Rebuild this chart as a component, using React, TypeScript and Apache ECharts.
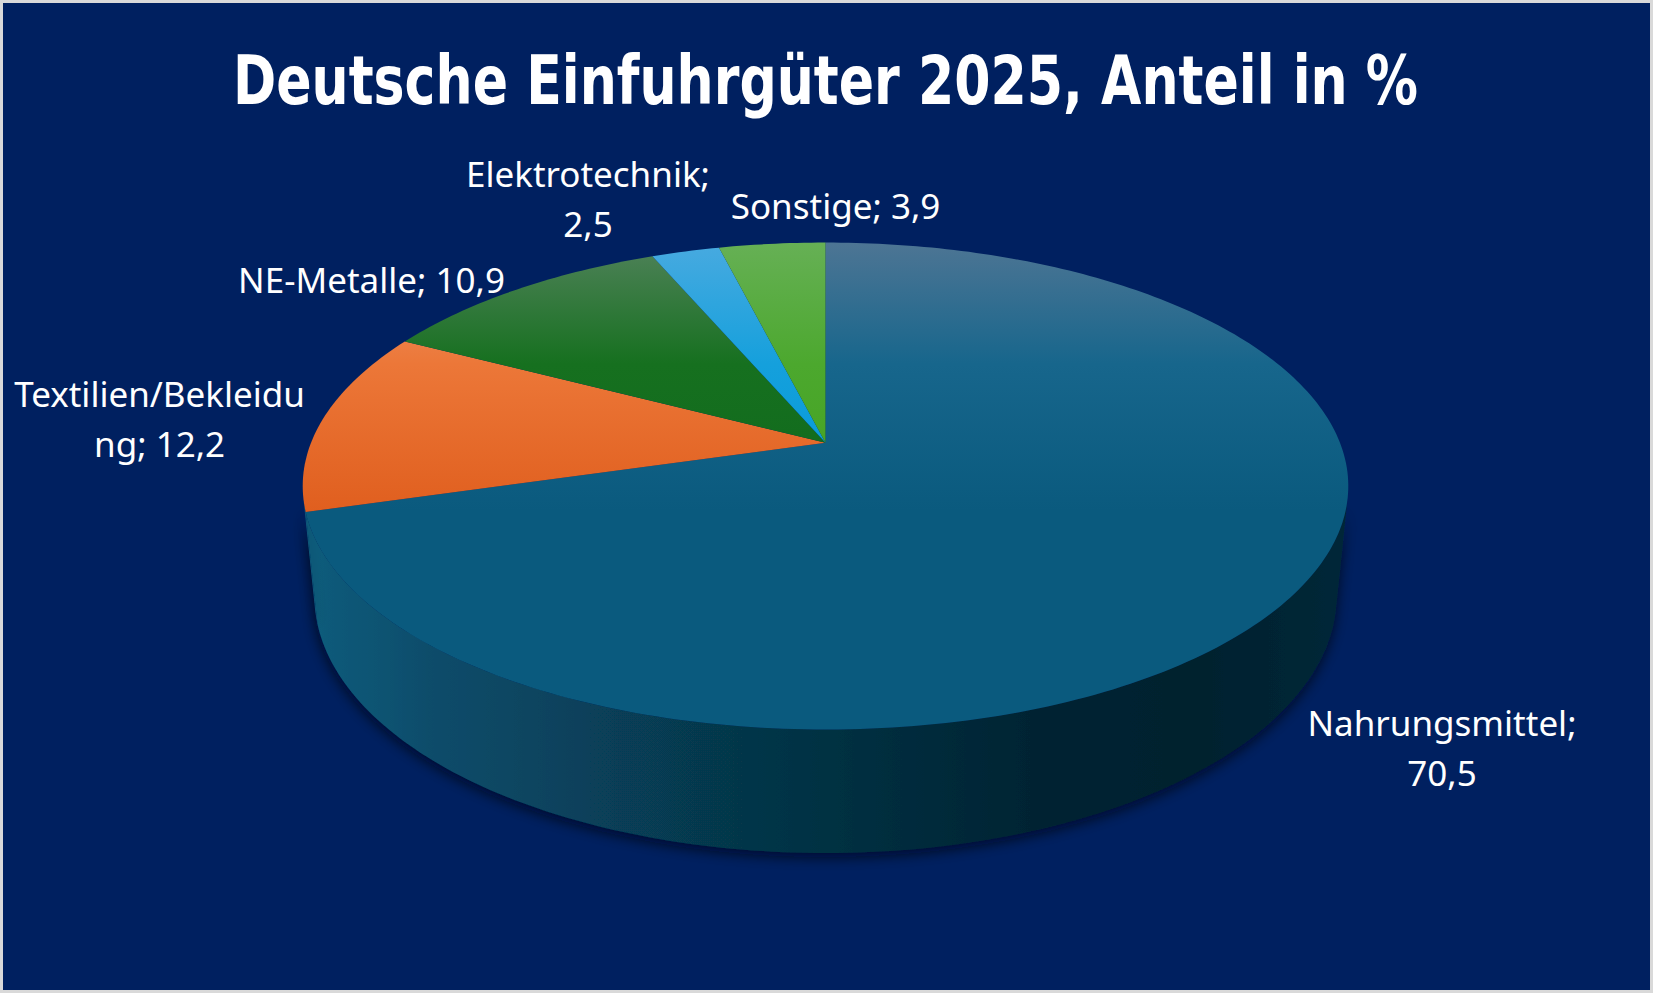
import React, { useEffect, useRef } from "react";
import * as echarts from "echarts";

// ---------- data ----------
const TITLE = "Deutsche Einfuhrgüter 2025, Anteil in %";
const CATEGORIES = ["Nahrungsmittel", "Textilien/Bekleidung", "NE-Metalle", "Elektrotechnik", "Sonstige"];
const SHARES = [70.5, 12.2, 10.9, 2.5, 3.9];

// ---------- style / layout ----------
const WIDTH = 1653;
const HEIGHT = 993;
const BG = "#002060";
const BORDER = "#d9d9d9";
// slice colours: [light top, mid, base]
const SLICE_COLORS: string[][] = [
  ["#4d7594", "#17668c", "#0a5a7e"],
  ["#ee9a74", "#ec7738", "#e05f1f"],
  ["#50825a", "#16701f", "#106a1d"],
  ["#48aae0", "#15a0dc", "#0099d9"],
  ["#66b055", "#4ca82e", "#43a21f"],
];
const WALL_STOPS = [
  [0, "#0d5c7c"],
  [0.12, "#0a4c6a"],
  [0.27, "#07405a"],
  [0.42, "#063649"],
  [0.7, "#042433"],
  [0.86, "#04202e"],
  [1, "#062838"],
];
// perspective camera of the 3-D pie
const PIE = { cx: 825.5, cy: 442.8, focal: 2576, dist: 5.007, tilt: 27.28, thick: 0.2421 };
const LABEL_FONT_SIZE = 35;
const LABEL_FONT = "Noto Sans";
const LABEL_LINE_HEIGHT = 50;
const LABEL_WRAP = 296;
const TITLE_FONT_SIZE = 68;
const TITLE_FONT = "DejaVu Sans";
const TITLE_WIDTH = 1186;
// label nudges (px) from the slice's mid-angle rim point
const LABEL_NUDGE = [
  [156, 146],
  [-163, -1.5],
  [-145.6, -10.4],
  [-97.5, -52.5],
  [63.5, -38],
];

const SIN_A = Math.sin((PIE.tilt * Math.PI) / 180);
const COS_A = Math.cos((PIE.tilt * Math.PI) / 180);

function proj(X: number, Y: number, Z: number): number[] {
  const d = PIE.dist - Y * SIN_A - Z * COS_A;
  return [PIE.cx + (PIE.focal * X) / d, PIE.cy + (PIE.focal * (Z * SIN_A - Y * COS_A)) / d];
}
// angle phi clockwise from 12 o'clock
function rimPoint(phi: number, y: number, r = 1): number[] {
  return proj(r * Math.sin(phi), y, -r * Math.cos(phi));
}
function sliceAngles(i: number): number[] {
  const total = SHARES.reduce((a, b) => a + b, 0);
  let acc = 0;
  for (let k = 0; k < i; k++) acc += SHARES[k];
  return [(acc / total) * Math.PI * 2, ((acc + SHARES[i]) / total) * Math.PI * 2];
}
function arc(a0: number, a1: number, y: number): number[][] {
  const n = Math.max(2, Math.ceil(((a1 - a0) * 180) / Math.PI));
  const pts: number[][] = [];
  for (let k = 0; k <= n; k++) pts.push(rimPoint(a0 + ((a1 - a0) * k) / n, y));
  return pts;
}

let measureCtx: CanvasRenderingContext2D | null = null;
function textWidth(s: string, font = `${LABEL_FONT_SIZE}px "${LABEL_FONT}"`): number {
  if (!measureCtx) {
    measureCtx = document.createElement("canvas").getContext("2d");
  }
  measureCtx!.font = font;
  return measureCtx!.measureText(s).width;
}
function wrapText(text: string, maxW: number): string {
  const words = text.split(" ");
  const lines: string[] = [];
  let cur = "";
  for (const w of words) {
    const cand = cur ? cur + " " + w : w;
    if (textWidth(cand) <= maxW) {
      cur = cand;
      continue;
    }
    if (cur) lines.push(cur);
    cur = w;
    while (textWidth(cur) > maxW) {
      let cut = cur.length - 1;
      while (cut > 1 && textWidth(cur.slice(0, cut)) > maxW) cut--;
      lines.push(cur.slice(0, cut));
      cur = cur.slice(cut);
    }
  }
  if (cur) lines.push(cur);
  return lines.join("\n");
}
function fmt(v: number): string {
  return v.toFixed(1).replace(".", ",");
}

export default function App() {
  const ref = useRef<HTMLDivElement>(null);
  useEffect(() => {
    if (!ref.current) return;
    const chart = echarts.init(ref.current, null, { renderer: "svg" });

    const topY = proj(0, 0, -1)[1];
    const botY = proj(0, 0, 1)[1];
    const leftX = rimPoint(-Math.PI / 2, 0)[0];
    const rightX = rimPoint(Math.PI / 2, 0)[0];
    const visLim = Math.acos(-1 / (PIE.dist * COS_A));

    const titleNatural = textWidth(TITLE, `bold ${TITLE_FONT_SIZE}px "${TITLE_FONT}"`);
    const titleScale = titleNatural > 0 ? Math.min(1, TITLE_WIDTH / titleNatural) : 0.85;

    const renderWall = (params: any) => {
      const i = params.dataIndex;
      const [a0, a1] = sliceAngles(i);
      const s = Math.max(a0, visLim);
      const e = Math.min(a1, Math.PI * 2 - visLim);
      if (e <= s) return null;
      const top = arc(s, e, 0);
      const bot = arc(s, e, -PIE.thick).reverse();
      return {
        type: "polygon",
        shape: { points: top.concat(bot) },
        style: {
          fill: {
            type: "linear",
            x: leftX,
            y: 0,
            x2: rightX,
            y2: 0,
            global: true,
            colorStops: WALL_STOPS.map(([o, c]) => ({ offset: o, color: c })),
          },
          shadowBlur: 14,
          shadowColor: "rgba(0,0,20,0.7)",
          shadowOffsetY: 4,
          shadowOffsetX: -1,
        },
      };
    };

    const renderTop = (params: any) => {
      const i = params.dataIndex;
      const [a0, a1] = sliceAngles(i);
      const pts = [proj(0, 0, 0)].concat(arc(a0, a1, 0));
      const cols = SLICE_COLORS[i];
      const mid = (a0 + a1) / 2;
      const anchor = rimPoint(mid, 0);
      const label = wrapText(`${CATEGORIES[i]}; ${fmt(SHARES[i])}`, LABEL_WRAP);
      return {
        type: "group",
        children: [
          {
            type: "polygon",
            shape: { points: pts },
            style: {
              fill: {
                type: "linear",
                x: 0,
                y: topY,
                x2: 0,
                y2: botY,
                global: true,
                colorStops: [
                  { offset: 0, color: cols[0] },
                  { offset: 0.25, color: cols[1] },
                  { offset: 0.55, color: cols[2] },
                  { offset: 1, color: cols[2] },
                ],
              },
            },
          },
          {
            type: "text",
            x: anchor[0] + LABEL_NUDGE[i][0],
            y: anchor[1] + LABEL_NUDGE[i][1],
            style: {
              text: label,
              fill: "#ffffff",
              fontSize: LABEL_FONT_SIZE,
              fontFamily: LABEL_FONT,
              lineHeight: LABEL_LINE_HEIGHT,
              align: "center",
              verticalAlign: "middle",
            },
          },
        ],
      };
    };

    const data = SHARES.map((v, i) => ({ name: CATEGORIES[i], value: v }));

    chart.setOption({
      animation: false,
      backgroundColor: BG,
      graphic: [
        {
          type: "rect",
          shape: { x: 1.5, y: 1.5, width: WIDTH - 3, height: HEIGHT - 3 },
          style: { fill: "none", stroke: BORDER, lineWidth: 3 },
          silent: true,
        },
        {
          type: "text",
          x: WIDTH / 2 - 1,
          y: 80,
          scaleX: titleScale,
          style: {
            text: TITLE,
            fill: "#ffffff",
            fontSize: TITLE_FONT_SIZE,
            fontWeight: "bold",
            fontFamily: TITLE_FONT,
            align: "center",
            verticalAlign: "middle",
          },
        },
      ],
      series: [
        {
          type: "custom",
          coordinateSystem: "none",
          silent: true,
          data,
          renderItem: renderWall,
        },
        {
          type: "custom",
          coordinateSystem: "none",
          data,
          renderItem: renderTop,
        },
      ],
    });
    return () => chart.dispose();
  }, []);
  return (
    <div
      ref={ref}
      style={{ position: "fixed", left: 0, top: 0, width: WIDTH, height: HEIGHT }}
    />
  );
}
